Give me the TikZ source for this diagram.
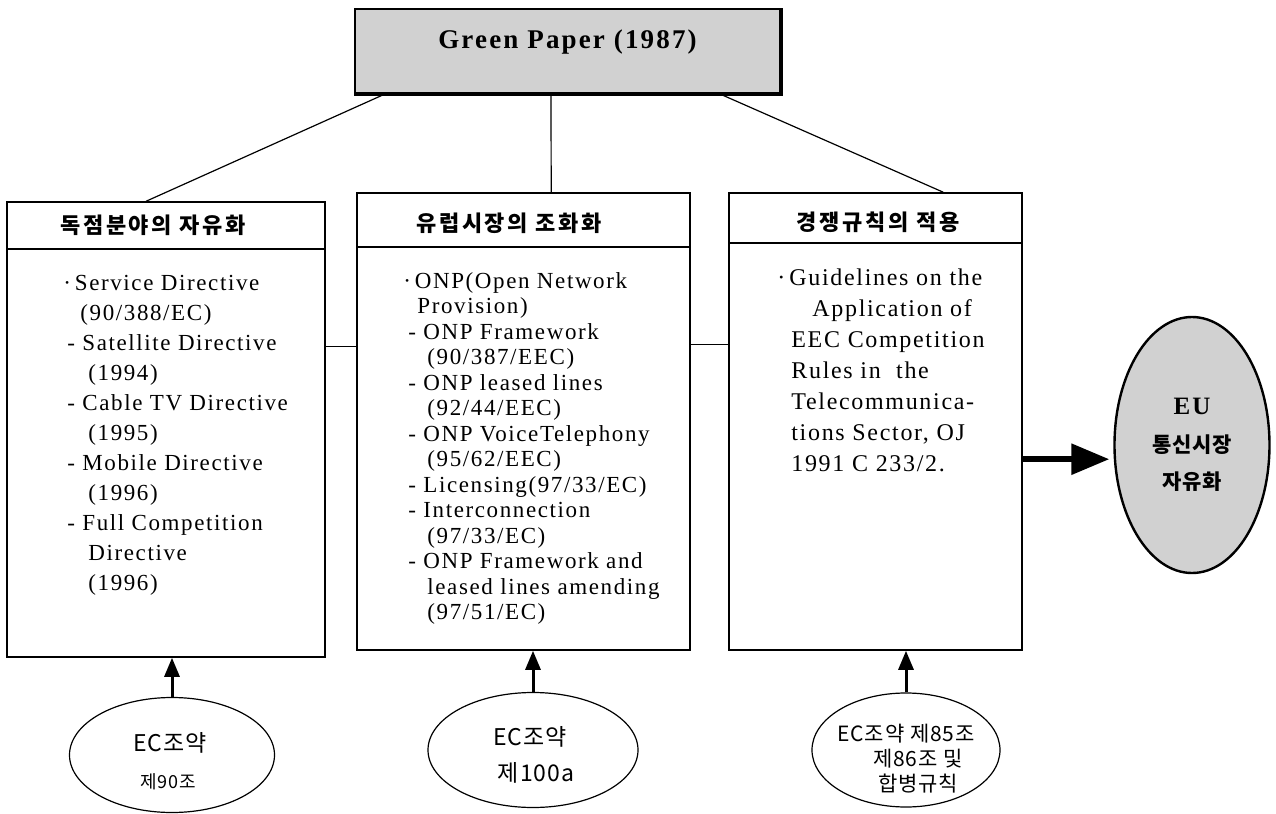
\documentclass[tikz,border=0pt]{standalone}
\usepackage{fontspec}
\usetikzlibrary{arrows.meta,shapes.geometric,fit,calc}

\newfontfamily\bodyfont{Liberation Serif}[LetterSpace=7]
\newfontfamily\titlefont{Liberation Serif}[LetterSpace=8]
\newfontfamily\krfont{Noto Sans CJK KR}[LetterSpace=4]
\newfontfamily\krhfont{Noto Sans CJK KR}[LetterSpace=12]
\newcommand{\indby}[1]{\hspace*{#1pt}}

\tikzset{
  panel/.style={draw, line width=0.8pt, inner sep=0pt},
  headtext/.style={inner sep=0pt, font=\krhfont\bfseries\fontsize{11}{13}\selectfont},
  bodytext/.style={align=left, inner sep=0pt, anchor=north west},
  link/.style={line width=0.6pt},
  uparrow/.style={line width=1.5pt, -{Triangle[length=9.5pt,width=7.5pt]}},
  bigarrow/.style={line width=3pt, -{Triangle[length=19pt,width=15pt]}},
  basis/.style={draw, ellipse, line width=0.6pt, inner sep=0pt},
  basistext/.style={align=center, inner sep=0pt}
}

\begin{document}
\begin{tikzpicture}[x=0.5pt, y=-0.5pt]

\useasboundingbox (0,0) rectangle (1276,814);

\node [panel, fit={(355,9) (780,93)}, fill=black!18, line width=1pt,
       font=\titlefont\bfseries\fontsize{13.5}{16}\selectfont] (gp) {Green Paper (1987)};
\draw [line width=2pt] (gp.north east) -- (gp.south east) -- (gp.south west);

\node [panel, fit={(7,202) (325,657)}] (lbox) {};
\node [panel, fit={(357,193) (690,650)}] (mbox) {};
\node [panel, fit={(729,193) (1022,650)}] (rbox) {};

\draw [line width=0.8pt] (7,249) -- (325,249);
\draw [line width=0.8pt] (357,247) -- (690,247);
\draw [line width=0.8pt] (729,243) -- (1022,243);

\node [headtext] (lhead) at (153,225) {독점분야의 자유화};
\node [headtext] (mhead) at (509,223) {유럽시장의 조화화};
\node [headtext] (rhead) at (878,222) {경쟁규칙의 적용};

\node [bodytext, font=\bodyfont\fontsize{11.5}{15}\selectfont] (lbody) at (63,275)
  {·\,Service\ Directive\\
   \indby{8.5}(90/388/EC)\\
   \indby{2}- Satellite\ Directive\\
   \indby{12.5}(1994)\\
   \indby{2}- Cable TV\ Directive\\
   \indby{12.5}(1995)\\
   \indby{2}- Mobile\ Directive\\
   \indby{12.5}(1996)\\
   \indby{2}- Full\ Competition\\
   \indby{12.5}Directive\\
   \indby{12.5}(1996)};

\node [bodytext, font=\bodyfont\fontsize{11.5}{12.75}\selectfont] (mbody) at (403,272)
  {·\,ONP(Open Network\\
   \indby{7}Provision)\\
   \indby{2.5}- ONP Framework\\
   \indby{12}(90/387/EEC)\\
   \indby{2.5}- ONP leased lines\\
   \indby{12}(92/44/EEC)\\
   \indby{2.5}- ONP VoiceTelephony\\
   \indby{12}(95/62/EEC)\\
   \indby{2.5}- Licensing(97/33/EC)\\
   \indby{2.5}- Interconnection\\
   \indby{12}(97/33/EC)\\
   \indby{2.5}- ONP Framework and\\
   \indby{12}leased lines amending\\
   \indby{12}(97/51/EC)};

\node [bodytext, font=\bodyfont\fontsize{12}{15.5}\selectfont] (rbody) at (777,268)
  {·\,Guidelines on the\\
   \indby{17.5}Application of\\
   \indby{7}EEC Competition\\
   \indby{7}Rules in\ \ the\\
   \indby{7}Telecommunica-\\
   \indby{7}tions Sector, OJ\\
   \indby{7}1991 C 233/2.};

\draw [link] ($(gp.south west)+(31,0)$) -- ($(lbox.north west)+(140,0)$);
\draw [link] ($(gp.south west)+(197,0)$) -- ($(mbox.north west)+(195,0)$);
\draw [link] ($(gp.south west)+(366,0)$) -- ($(rbox.north west)+(215,0)$);

\draw [link] ($(lbox.north east)+(0,145)$) -- ($(mbox.north west)+(0,154)$);
\draw [link] ($(mbox.north east)+(0,152)$) -- ($(rbox.north west)+(0,152)$);

\node [draw, ellipse, fill=black!18, line width=1.2pt, inner sep=0pt,
       minimum width=77.5pt, minimum height=128pt, align=center,
       font=\krfont\bfseries\fontsize{10.5}{18.75}\selectfont] (eu) at (1192,445)
  {{\titlefont\fontsize{12.5}{18.75}\selectfont EU}\\ 통신시장\\ 자유화};

\coordinate (rbout) at ($(rbox.north east)+(0,267)$);
\draw [bigarrow, shorten >=2pt] (rbout) -- (rbout -| eu.west);

\node [basis, minimum width=102.5pt, minimum height=57.5pt] (lbasis) at (172,755) {};
\node [basis, minimum width=105pt, minimum height=57.5pt] (mbasis) at (533,750) {};
\node [basis, minimum width=94pt, minimum height=57pt] (rbasis) at (906,750) {};

\node [basistext, font=\krfont\fontsize{11.5}{14}\selectfont] (ltop) at (170,743) {EC조약};
\node [basistext, font=\krfont\fontsize{9}{11}\selectfont] (lbot) at (168,782) {제90조};
\node [basistext, font=\krfont\fontsize{11.5}{14}\selectfont] (mtop) at (530,737) {EC조약};
\node [basistext, font=\krfont\fontsize{11.5}{14}\selectfont] (mbot) at (536,773) {제100a};
\node [basistext, font=\krfont\fontsize{10.5}{12.5}\selectfont] (rtext) at (906,759)
  {EC조약 제85조\\ \indby{12}제86조 및\\ \indby{12}합병규칙};

\foreach \b/\p in {lbasis/lbox, mbasis/mbox, rbasis/rbox}
    \draw [uparrow] (\b.north) -- (\b.north |- \p.south);

\end{tikzpicture}
\end{document}
